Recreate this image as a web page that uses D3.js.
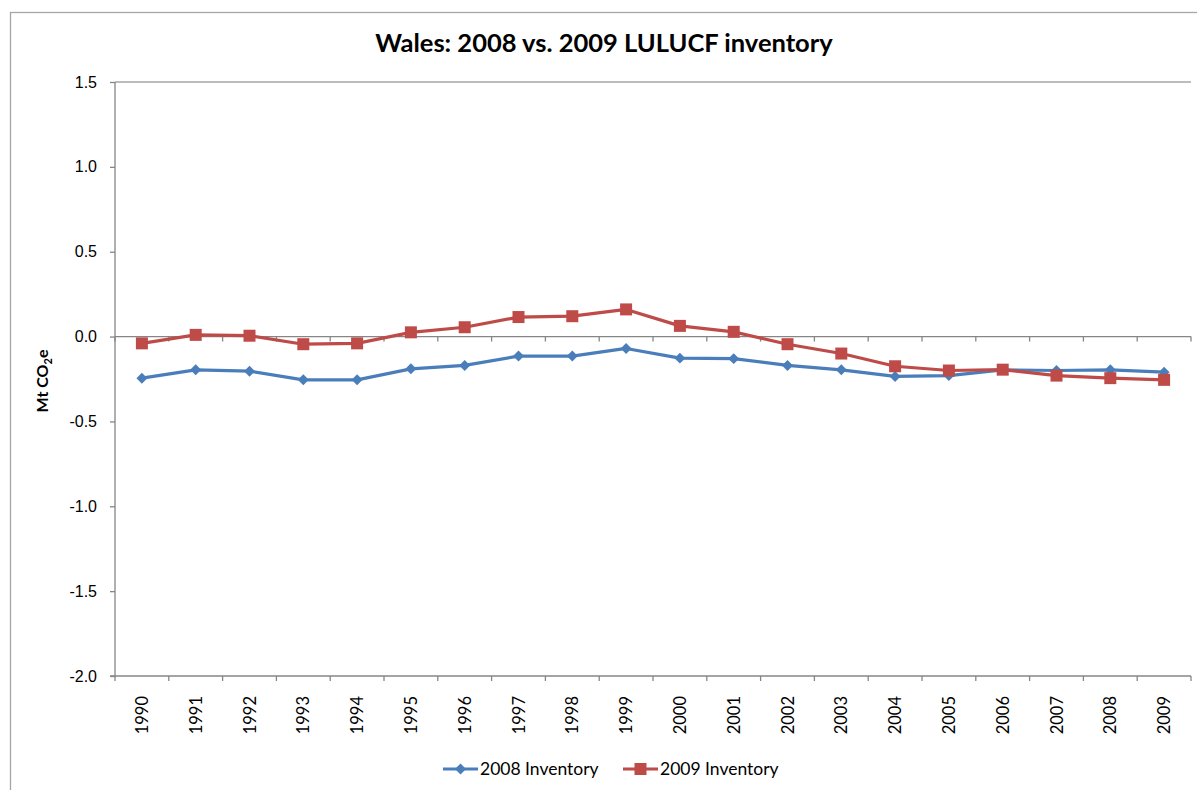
<html>
<head>
<meta charset="utf-8">
<script src="https://d3js.org/d3.v7.min.js"></script>
<style>
body { margin: 0; background: #fff; }
svg { font-family: Lato, 'Open Sans', sans-serif; }
</style>
</head>
<body>
<div id="chart"></div>
<script>
var width = 1197, height = 790;

// chart values
var years = ["1990","1991","1992","1993","1994","1995","1996","1997","1998","1999",
             "2000","2001","2002","2003","2004","2005","2006","2007","2008","2009"];
var inv2008 = [-0.245,-0.196,-0.204,-0.255,-0.255,-0.19,-0.17,-0.115,-0.115,-0.07,
               -0.127,-0.13,-0.17,-0.196,-0.235,-0.23,-0.196,-0.2,-0.196,-0.21];
var inv2009 = [-0.04,0.01,0.005,-0.045,-0.04,0.025,0.055,0.115,0.12,0.16,
               0.063,0.028,-0.045,-0.1,-0.175,-0.2,-0.195,-0.23,-0.245,-0.255];
var yTicks = [1.5, 1.0, 0.5, 0.0, -0.5, -1.0, -1.5, -2.0];
var seriesNames = ["2008 Inventory", "2009 Inventory"];
var seriesColors = ["#4A7EBB", "#BE4B48"];

var plotLeft = 115, plotRight = 1191, plotTop = 82, plotBottom = 676;
var axisGray = "#868686";

var svg = d3.select("#chart").append("svg")
  .attr("width", width).attr("height", height);

// outer chart frame (runs off the right / bottom edge)
svg.append("rect").attr("x", 10.5).attr("y", 12.5)
  .attr("width", 1200).attr("height", 800)
  .style("fill", "none").style("stroke", "#a6a6a6").style("stroke-width", 1.3);

var x = d3.scaleBand().domain(years).range([plotLeft, plotRight]);
var y = d3.scaleLinear().domain([-2, 1.5]).range([plotBottom, plotTop]);

// top border line of plot area
svg.append("line").attr("x1", plotLeft).attr("x2", plotRight)
  .attr("y1", y(1.5)).attr("y2", y(1.5))
  .style("stroke", "#a6a6a6").style("stroke-width", 1.3);

// y axis (plain hyphen for negatives, like the original)
var yAxis = d3.axisLeft(y).tickValues(yTicks)
  .tickFormat(function (d) { return d.toFixed(1); })
  .tickSize(5).tickPadding(13);
var gy = svg.append("g").attr("transform", "translate(" + plotLeft + ",0)").call(yAxis);
gy.selectAll("text").style("font-size", "16px").style("fill", "#000");
gy.select(".domain").attr("d", "M0," + plotTop + "V" + plotBottom);
gy.selectAll(".domain, .tick line").style("stroke", axisGray).style("stroke-width", 1.3);

// category axis at the bottom, ticks between categories
var gx = svg.append("g");
gx.append("line").attr("x1", plotLeft - 5).attr("x2", plotRight)
  .attr("y1", plotBottom).attr("y2", plotBottom);
gx.selectAll("line.tk").data(d3.range(years.length + 1)).enter().append("line")
  .attr("class", "tk")
  .attr("x1", function (i) { return plotLeft + i * x.step(); })
  .attr("x2", function (i) { return plotLeft + i * x.step(); })
  .attr("y1", plotBottom).attr("y2", plotBottom + 5);
gx.selectAll("line").style("stroke", axisGray).style("stroke-width", 1.3);
gx.selectAll("text").data(years).enter().append("text")
  .attr("transform", function (d) {
    return "translate(" + (x(d) + x.bandwidth() / 2 + 6) + "," + (plotBottom + 20) + ") rotate(-90)";
  })
  .attr("text-anchor", "end")
  .style("font-size", "16.5px")
  .text(function (d) { return d; });

// zero line with its tick marks
svg.append("line").attr("x1", plotLeft).attr("x2", plotRight)
  .attr("y1", y(0)).attr("y2", y(0))
  .style("stroke", axisGray).style("stroke-width", 1.3);
svg.selectAll("line.zt").data(d3.range(years.length + 1)).enter().append("line")
  .attr("class", "zt")
  .attr("x1", function (i) { return plotLeft + i * x.step(); })
  .attr("x2", function (i) { return plotLeft + i * x.step(); })
  .attr("y1", y(0)).attr("y2", y(0) + 5)
  .style("stroke", axisGray).style("stroke-width", 1.3);

// series
var line = d3.line()
  .x(function (d, i) { return x(years[i]) + x.bandwidth() / 2; })
  .y(function (d) { return y(d); });

[inv2008, inv2009].forEach(function (vals, s) {
  svg.append("path").datum(vals).attr("d", line)
    .style("fill", "none").style("stroke", seriesColors[s]).style("stroke-width", 3.2)
    .style("stroke-linejoin", "round");
});

svg.selectAll("path.dia").data(inv2008).enter().append("path")
  .attr("class", "dia")
  .attr("d", d3.symbol().type(d3.symbolSquare).size(60))
  .attr("transform", function (d, i) {
    return "translate(" + (x(years[i]) + x.bandwidth() / 2) + "," + y(d) + ") rotate(45)";
  })
  .style("fill", seriesColors[0]);

svg.selectAll("rect.sq").data(inv2009).enter().append("rect")
  .attr("class", "sq")
  .attr("x", function (d, i) { return x(years[i]) + x.bandwidth() / 2 - 6; })
  .attr("y", function (d) { return y(d) - 6; })
  .attr("width", 12).attr("height", 12)
  .style("fill", seriesColors[1]);

// title
svg.append("text").attr("x", 604).attr("y", 52).attr("text-anchor", "middle")
  .style("font-size", "25.5px").style("font-weight", "bold")
  .text("Wales: 2008 vs. 2009 LULUCF inventory");

// y-axis label with subscript
var yl = svg.append("text").attr("transform", "translate(48,381) rotate(-90)")
  .attr("text-anchor", "middle").style("font-size", "16px").style("font-weight", "bold");
yl.append("tspan").text("Mt CO");
yl.append("tspan").attr("dy", 4).style("font-size", "11px").text("2");
yl.append("tspan").attr("dy", -4).text("e");

// legend
var legendX = [443, 623];
seriesNames.forEach(function (name, s) {
  var g = svg.append("g").attr("transform", "translate(" + legendX[s] + ",769)");
  g.append("line").attr("x1", 0).attr("x2", 35).attr("y1", 0).attr("y2", 0)
    .style("stroke", seriesColors[s]).style("stroke-width", 3.2);
  if (s === 0) {
    g.append("path").attr("d", d3.symbol().type(d3.symbolSquare).size(60))
      .attr("transform", "translate(17.5,0) rotate(45)").style("fill", seriesColors[s]);
  } else {
    g.append("rect").attr("x", 11.5).attr("y", -6).attr("width", 12).attr("height", 12)
      .style("fill", seriesColors[s]);
  }
  g.append("text").attr("x", 37).attr("y", 6).style("font-size", "17.5px").text(name);
});
</script>
</body>
</html>
